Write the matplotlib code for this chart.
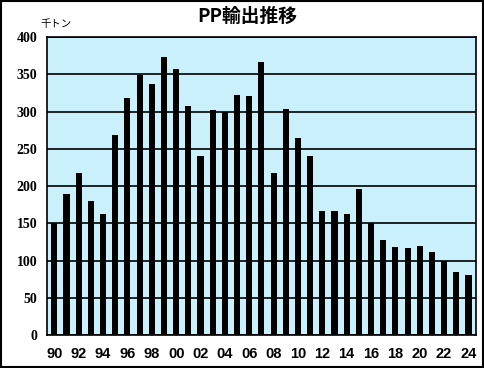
import matplotlib
matplotlib.use('Agg')
import matplotlib.pyplot as plt
from matplotlib.patches import Rectangle

years = list(range(1990, 2025))
exports = [150, 189, 218, 180, 163, 268, 318, 349, 337, 374,
           357, 308, 240, 302, 299, 322, 321, 366, 217, 303,
           265, 240, 167, 167, 163, 196, 150, 128, 118, 117,
           120, 111, 99, 84, 81]
tick_years = years[::2]
tick_labels = ['%02d' % (y % 100) for y in tick_years]

fig = plt.figure(figsize=(4.85, 3.68), dpi=100)
ax = fig.add_axes([0.097, 0.0897, 0.884, 0.8093])
ax.set_facecolor('#c9f0fb')
ax.set_axisbelow(True)
ax.yaxis.grid(True, color='black', linewidth=1.2)

ax.bar(years, exports, width=0.5, color='black')

ax.set_xlim(1989.4, 2024.6)
ax.set_ylim(0, 400)
ax.set_yticks(range(0, 401, 50))
ax.set_xticks(tick_years)
ax.set_xticklabels(tick_labels, fontfamily='Liberation Sans', fontweight='bold', fontsize=10.5)
for lab in ax.get_yticklabels():
    lab.set_fontfamily('Liberation Serif')
    lab.set_fontweight('bold')
    lab.set_fontsize(10)
ax.tick_params(length=0, pad=7)
ax.tick_params(axis='x', pad=9)
for s in ax.spines.values():
    s.set_linewidth(1.2)

fig.text(0.51, 0.955, 'PP輸出推移', ha='center', va='center', fontsize=13.5,
         fontweight='bold', family=['Noto Sans CJK JP', 'DejaVu Sans'])
fig.text(0.083, 0.935, '千トン', ha='left', va='center', fontsize=7.5,
         family=['Noto Sans CJK JP', 'DejaVu Sans'])

fig.patches.append(Rectangle((0.002, 0.003), 0.994, 0.993, transform=fig.transFigure,
                             fill=False, edgecolor='black', linewidth=1.5))

fig.savefig('out.png', dpi=100)
